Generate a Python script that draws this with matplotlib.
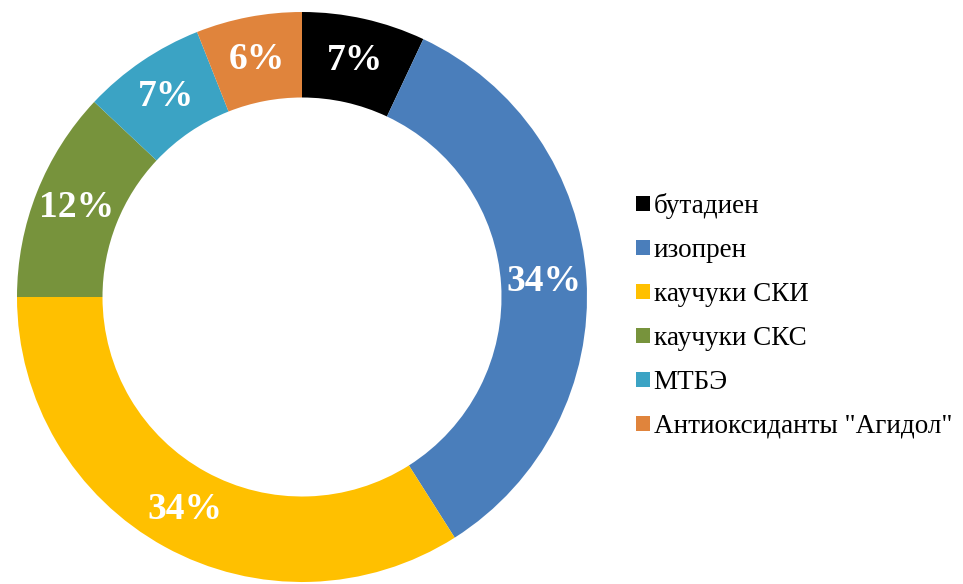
import matplotlib
matplotlib.use("Agg")
import matplotlib.pyplot as plt
from matplotlib.patches import Patch

categories = ["бутадиен", "изопрен", "каучуки СКИ", "каучуки СКС", "МТБЭ", 'Антиоксиданты "Агидол"']
values = [7, 34, 34, 12, 7, 6]
colors = ["#000000", "#4a7ebb", "#ffc000", "#77933c", "#3ba3c4", "#e0843c"]

W, H = 963, 584
fig = plt.figure(figsize=(W / 100, H / 100), dpi=100)
cx, cy, R = 302, 297, 285
ax = fig.add_axes([(cx - R) / W, (H - cy - R) / H, 2 * R / W, 2 * R / H])
wedges, texts, autotexts = ax.pie(
    values, colors=colors, startangle=90, counterclock=False,
    radius=1.0, wedgeprops=dict(width=0.3, edgecolor="none"),
    autopct=lambda p: f"{p:.0f}%", pctdistance=0.85,
    textprops=dict(color="white", fontsize=27, fontweight="bold", family="Liberation Serif"))
ax.set_xlim(-1, 1)
ax.set_ylim(-1, 1)
ax.set_aspect("equal")
ax.axis("off")

handles = [Patch(facecolor=c, edgecolor="none") for c in colors]
fig.legend(handles, categories, loc="center left", bbox_to_anchor=(636 / W, 1 - 316 / H),
           frameon=False, prop=dict(family="Liberation Serif", size=19.5),
           handlelength=0.5, handleheight=0.5, handletextpad=0.15, labelspacing=0.7,
           borderaxespad=0, borderpad=0)
fig.savefig("out.png", dpi=100)
